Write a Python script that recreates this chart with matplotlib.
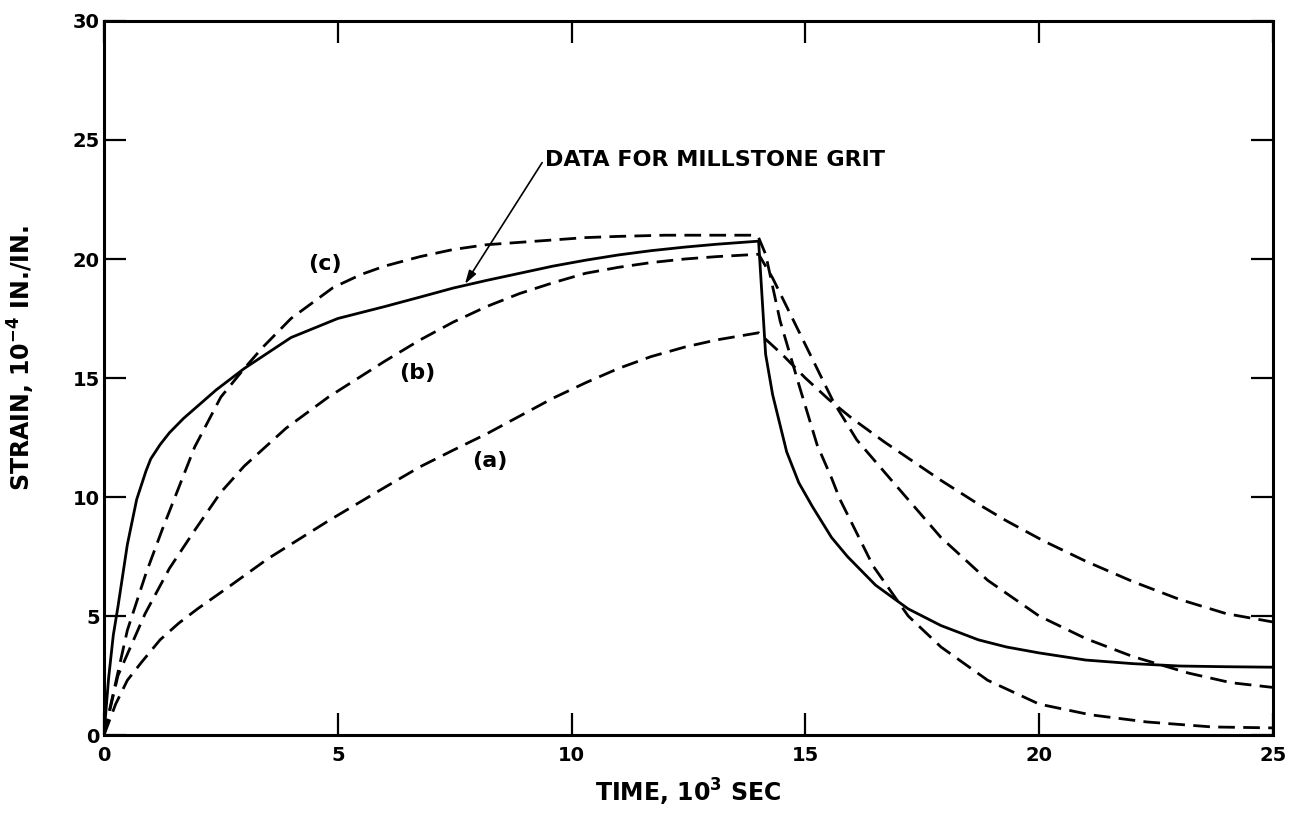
import matplotlib
matplotlib.use('Agg')
import matplotlib.pyplot as plt

plt.rcParams['font.family'] = ['DejaVu Sans']

# Data (time in 10^3 s, strain in 10^-4 in./in.)
data_t = [0, 0.1, 0.2, 0.3, 0.5, 0.7, 0.9, 1.0, 1.2, 1.4, 1.7, 2.4, 3.0, 4.0, 5.0, 6.0,
          6.76, 7.47, 8.18, 8.89, 9.6, 10.3, 11.0, 11.7, 12.42, 13.1, 14.0,
          14.15, 14.3, 14.45, 14.6, 14.86, 15.15, 15.56, 15.9, 16.5, 17.2, 17.9,
          18.7, 19.3, 20.0, 21.0, 22.0, 23.0, 24.0, 25.0]
data_s = [0, 2.4, 4.2, 5.4, 8.0, 9.9, 11.1, 11.6, 12.2, 12.7, 13.3, 14.5, 15.4, 16.7, 17.5, 18.0,
          18.4, 18.78, 19.1, 19.4, 19.7, 19.95, 20.17, 20.35, 20.5, 20.62, 20.75,
          16.0, 14.3, 13.1, 11.9, 10.6, 9.6, 8.3, 7.5, 6.3, 5.3, 4.6,
          4.0, 3.7, 3.45, 3.15, 3.0, 2.9, 2.87, 2.85]

a_t = [0, 0.25, 0.5, 0.8, 1.2, 1.6, 2.0, 2.65, 3.5, 4.8, 6.0, 6.76, 7.47, 8.18, 8.89, 9.6,
       10.3, 11.0, 11.7, 12.42, 13.1, 14.0,
       14.5, 15.0, 15.5, 16.0, 16.7, 17.3, 17.9, 18.7, 19.3, 20.1, 21.0, 22.0,
       23.0, 24.0, 25.0]
a_s = [0, 1.3, 2.3, 3.05, 4.0, 4.7, 5.3, 6.2, 7.4, 9.0, 10.4, 11.27, 11.97, 12.65, 13.4, 14.15,
       14.8, 15.4, 15.9, 16.3, 16.6, 16.9,
       16.0, 15.0, 14.1, 13.3, 12.3, 11.5, 10.7, 9.7, 9.0, 8.15, 7.3, 6.45,
       5.7, 5.1, 4.75]

b_t = [0, 0.3, 0.88, 1.4, 1.94, 2.5, 3.0, 3.9, 4.8, 6.0, 6.76, 7.47, 8.18, 8.89, 9.6, 10.3,
       11.0, 11.7, 12.42, 13.1, 14.0,
       14.3, 14.75, 15.2, 15.6, 16.1, 16.8, 17.9, 18.9, 20.0, 21.0, 22.0, 23.2, 24.1, 25.0]
b_s = [0, 2.5, 5.1, 7.0, 8.6, 10.2, 11.3, 12.9, 14.2, 15.7, 16.6, 17.35, 18.0, 18.55, 19.0, 19.4,
       19.65, 19.85, 20.0, 20.1, 20.2,
       19.2, 17.4, 15.6, 14.0, 12.4, 10.8, 8.3, 6.5, 5.0, 4.05, 3.3, 2.6, 2.2, 2.0]

c_t = [0, 0.5, 0.9, 1.24, 1.6, 1.94, 2.5, 3.0, 3.4, 4.0, 4.9, 5.5, 6.0, 6.76, 7.47, 8.18,
       8.89, 9.6, 10.3, 11.0, 12.0, 13.9,
       14.0, 14.15, 14.46, 14.88, 15.25, 15.56, 15.74, 16.07, 16.45, 17.2, 17.9, 18.9, 20.0,
       21.1, 22.3, 23.7, 25.0]
c_s = [0, 4.4, 6.8, 8.6, 10.4, 12.1, 14.2, 15.4, 16.3, 17.5, 18.8, 19.35, 19.7, 20.1, 20.4, 20.6,
       20.7, 20.8, 20.9, 20.95, 21.0, 21.0,
       20.9, 20.2, 17.4, 14.6, 12.2, 10.8, 9.9, 8.6, 7.1, 5.0, 3.7, 2.3, 1.3,
       0.85, 0.55, 0.34, 0.3]

x_ticks = [0, 5, 10, 15, 20, 25]
y_ticks = [0, 5, 10, 15, 20, 25, 30]

fig = plt.figure(figsize=(12.93, 8.33), dpi=100)
ax = fig.add_axes([0.0804, 0.1176, 0.9041, 0.8572])

dash = (6, 3)
ax.plot(data_t, data_s, color='black', lw=2.0, solid_joinstyle='round')
ax.plot(a_t, a_s, color='black', lw=2.0, dashes=dash)
ax.plot(b_t, b_s, color='black', lw=2.0, dashes=dash)
ax.plot(c_t, c_s, color='black', lw=2.0, dashes=dash)

lab = dict(fontsize=16, fontweight='bold', ha='center', va='center')
ax.text(8.25, 11.5, '(a)', **lab)
ax.text(6.69, 15.2, '(b)', **lab)
ax.text(4.73, 19.8, '(c)', **lab)

ax.annotate('DATA FOR MILLSTONE GRIT', xy=(7.72, 18.95), xytext=(9.43, 24.15),
            fontsize=16, fontweight='bold', ha='left', va='center',
            arrowprops=dict(arrowstyle='-|>,head_length=0.5,head_width=0.15',
                            color='black', lw=1.2, shrinkA=0, shrinkB=0,
                            relpos=(0, 0.6)))

ax.set_xlim(0, 25)
ax.set_ylim(0, 30)
ax.set_xticks(x_ticks)
ax.set_yticks(y_ticks)
ax.tick_params(direction='in', length=16, width=1.6, top=True, right=True,
               labelsize=14)
ax.tick_params(axis='x', pad=8)
ax.tick_params(axis='y', pad=3)
for lbl in ax.get_xticklabels() + ax.get_yticklabels():
    lbl.set_fontweight('bold')
for sp in ax.spines.values():
    sp.set_linewidth(2.2)

ax.set_xlabel('TIME, 10$^{\\mathbf{3}}$ SEC', fontsize=17, fontweight='bold')
ax.set_ylabel('STRAIN, 10$^{\\mathbf{-4}}$ IN./IN.', fontsize=17, fontweight='bold')
ax.xaxis.set_label_coords(0.5, -0.058)
ax.yaxis.set_label_coords(-0.057, 0.528)

plt.savefig('out.png', dpi=100)
